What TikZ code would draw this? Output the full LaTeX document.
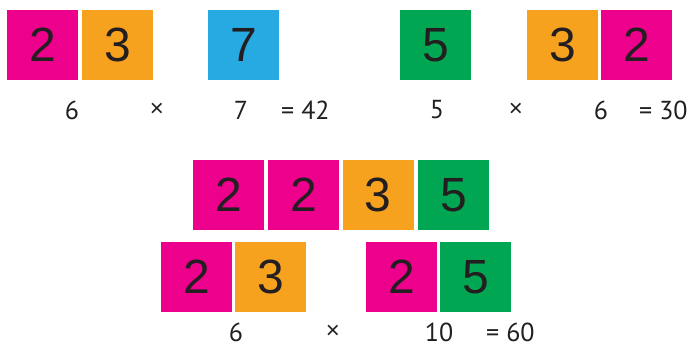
\documentclass[tikz,border=0pt]{standalone}
\usepackage{fontspec}
\setmainfont{Liberation Sans}
\newfontfamily\labelfont{PT Sans}
\usetikzlibrary{positioning}
\definecolor{tilepink}{HTML}{EC008C}
\definecolor{tileorange}{HTML}{F7A21F}
\definecolor{tileblue}{HTML}{27A9E1}
\definecolor{tilegreen}{HTML}{00A651}
\definecolor{ink}{HTML}{231F20}
\tikzset{
  x = 1pt, y = -1pt,
  tile/.style = {inner sep = 0pt, minimum width = 71pt, minimum height = 70pt,
    text = ink, font = \fontsize{48}{48}\selectfont},
  pinktile/.style = {tile, fill = tilepink},
  orangetile/.style = {tile, fill = tileorange},
  bluetile/.style = {tile, fill = tileblue},
  greentile/.style = {tile, fill = tilegreen},
  factor/.style = {inner sep = 0pt, text = ink, font = \labelfont\fontsize{26}{26}\selectfont},
  times/.style = {factor, font = \fontsize{24}{24}\selectfont},
  result/.style = {factor, anchor = west}
}

\begin{document}
\begin{tikzpicture}

\useasboundingbox (0,0) rectangle (691,346);

\node [pinktile] (a2) at (42.5,45) {2};
\node [orangetile] (a3) [right = 4pt of a2] {3};
\node [bluetile] (a7) at (243.5,45) {7};

\node [greentile] (b5) at (435.5,45) {5};
\node [orangetile] (b3) at (562.5,45) {3};
\node [pinktile] (b2) [right = 3pt of b3] {2};

\node [factor] (a6lab) at (72,110) {6};
\node [times] (atimes) at (157,110) {×};
\node [factor] (a7lab) at (241,110) {7};
\node [result] (ares) at (281,110) {= 42};

\node [factor] (b5lab) at (437,110) {5};
\node [times] (btimes) at (516,110) {×};
\node [factor] (b6lab) at (601,110) {6};
\node [result] (bres) at (639,110) {= 30};

\node [pinktile] (c2) at (228.5,195) {2};
\node [pinktile] (c2b) [right = 4pt of c2] {2};
\node [orangetile] (c3) [right = 3pt of c2b] {3};
\node [greentile] (c5) [right = 4pt of c3] {5};

\node [pinktile] (d2) at (196.5,277) {2};
\node [orangetile] (d3) [right = 3pt of d2] {3};
\node [pinktile] (e2) at (401.5,277) {2};
\node [greentile] (e5) [right = 3pt of e2] {5};

\node [factor] (d6lab) at (236,332) {6};
\node [times] (ctimes) at (333,332) {×};
\node [factor] (e10lab) at (439,332) {10};
\node [result] (cres) at (486,332) {= 60};

\end{tikzpicture}
\end{document}
